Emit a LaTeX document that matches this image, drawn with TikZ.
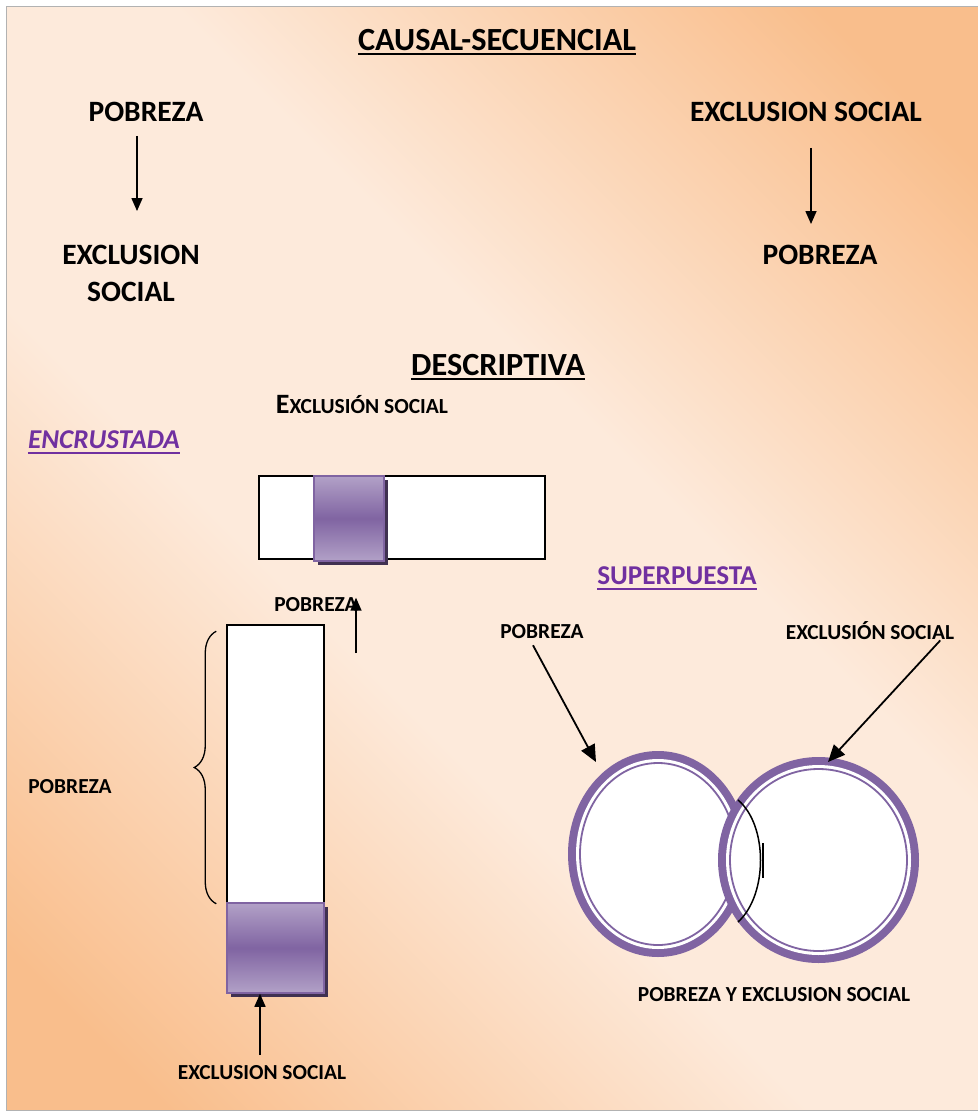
\documentclass[tikz,border=0pt]{standalone}
\usepackage{fontspec}
\setmainfont{Carlito}
\usetikzlibrary{arrows.meta,decorations.pathreplacing,shadows}
\definecolor{peachlt}{RGB}{253,234,219}
\definecolor{peachdk}{RGB}{249,190,140}
\definecolor{violeta}{RGB}{128,100,162}
\definecolor{lavanda}{RGB}{178,161,199}
\definecolor{sombra}{RGB}{64,49,81}
\definecolor{titpurp}{RGB}{112,48,160}
\pgfdeclareverticalshading{peachband}{100bp}{color(0bp)=(peachdk); color(20bp)=(peachdk);
  color(42bp)=(peachlt); color(58bp)=(peachlt); color(80bp)=(peachdk); color(100bp)=(peachdk)}
\tikzset{
  biglbl/.style={inner sep=0pt, font=\fontsize{29.5}{37}\selectfont\bfseries, align=center},
  ttl/.style={inner sep=0pt, font=\fontsize{32.3}{38}\selectfont\bfseries},
  sml/.style={inner sep=0pt, font=\fontsize{21.4}{25}\selectfont\bfseries},
  sect/.style={inner sep=0pt, text=titpurp, font=\fontsize{27.2}{30}\selectfont\bfseries},
  arr/.style={line width=1.5pt, -{Triangle[width=11pt,length=13pt]}},
  bigarr/.style={line width=1.8pt, -{Triangle[width=15pt,length=17pt]}},
  barbox/.style={draw=black, line width=1.5pt, fill=white, inner sep=0pt},
  lilabox/.style={draw=violeta, line width=1.5pt, inner sep=0pt,
    top color=lavanda, bottom color=lavanda, middle color=violeta,
    drop shadow={shadow xshift=3.5pt, shadow yshift=-4pt, fill=sombra, opacity=1}},
}
\begin{document}
\begin{tikzpicture}[x=1pt, y=-1pt]
    \useasboundingbox (0,0) rectangle (978,1112);
    \shade[shading=peachband, shading angle=-45] (6,6) rectangle (978,1110);
    \draw[black!30, line width=0.6pt] (6,6) rectangle (978,1110);

    % causal-secuencial
    \node[ttl] (causal) at (497,40) {CAUSAL-SECUENCIAL};
    \draw[line width=2pt] ([yshift=-3pt]causal.south west) -- ([yshift=-3pt]causal.south east);

    \node[biglbl] (pobA) at (146,112) {POBREZA};
    \node[biglbl] (excA) at (131,273.5) {EXCLUSION\\SOCIAL};
    \draw[arr] ([xshift=-9pt,yshift=-14pt]pobA.south) -- ([xshift=6pt,yshift=34pt]excA.north);

    \node[biglbl] (excB) at (806,112) {EXCLUSION SOCIAL};
    \node[biglbl] (pobB) at (820,255) {POBREZA};
    \draw[arr] ([xshift=5pt,yshift=-26pt]excB.south) -- ([xshift=-9pt,yshift=21pt]pobB.north);

    % descriptiva
    \node[ttl] (descr) at (498,365) {DESCRIPTIVA};
    \draw[line width=2pt] ([yshift=-3pt]descr.south west) -- ([yshift=-3pt]descr.south east);

    \node[inner sep=0pt, anchor=base, font=\fontsize{21.5}{25}\selectfont\bfseries] (excC) at (362,413)
        {{\fontsize{28}{30}\selectfont E}XCLUSIÓN SOCIAL};

    \node[sect, font=\fontsize{27.2}{30}\selectfont\bfseries\itshape] (encr) at (104,440) {ENCRUSTADA};
    \draw[titpurp, line width=2pt] ([yshift=-3.5pt]encr.south west) -- ([yshift=-3.5pt]encr.south east);

    \node[barbox, minimum width=286pt, minimum height=83pt] (hbar) at (402,517.5) {};
    \node[lilabox, minimum width=70pt, minimum height=85pt] (lila1) at (349,518.5) {};

    \node[sml] (pobC) at (316,605) {POBREZA};
    \coordinate (baseC) at (356,653);
    \draw[arr] (baseC) -- (baseC |- pobC.north east);

    \node[barbox, minimum width=97pt, minimum height=278pt] (vbar) at (275.5,764) {};
    \node[lilabox, minimum width=97pt, minimum height=90pt] (lila2) at (275.5,948) {};
    \draw[line width=1.3pt, decorate, decoration={brace, amplitude=22pt}]
        ([xshift=-10pt]vbar.south west) -- ([xshift=-10pt,yshift=-7pt]vbar.north west);

    \node[sml] (pobD) at (70,787) {POBREZA};
    \node[sml] (excD) at (262,1073) {EXCLUSION SOCIAL};
    \coordinate (baseD) at (260,1055);
    \draw[arr] (baseD) -- (baseD |- lila2.south);

    % superpuesta
    \node[sect] (super) at (677,576) {SUPERPUESTA};
    \draw[titpurp, line width=2pt] ([yshift=-3.5pt]super.south west) -- ([yshift=-3.5pt]super.south east);

    \node[sml] (pobE) at (542,632) {POBREZA};
    \node[sml, anchor=base] (excE) at (870,639) {EXCLUSIÓN SOCIAL};

    \fill[violeta] (658,854) ellipse [x radius=90, y radius=103];
    \fill[white] (658,854) ellipse [x radius=82, y radius=95];
    \draw[violeta, line width=1.8pt, fill=white] (658,854) ellipse [x radius=78, y radius=91];

    \fill[violeta] (818.5,860) ellipse [x radius=100.5, y radius=103];
    \fill[white] (818.5,860) ellipse [x radius=92.5, y radius=95];
    \draw[violeta, line width=1.8pt, fill=white] (818.5,860) ellipse [x radius=88.5, y radius=91];

    \draw[line width=1.5pt] (738,800) .. controls (768,825) and (768,895) .. (738,922);
    \draw[line width=1.2pt] (763,843) -- (763,878);

    \coordinate (tipL) at (596,762);
    \coordinate (tipR) at (828,762);
    \draw[bigarr] ([xshift=-9pt,yshift=-6pt]pobE.south) -- (tipL);
    \draw[bigarr] ([xshift=-14pt,yshift=-1pt]excE.south east) -- (tipR);

    \node[sml] (pyE) at (774,995) {POBREZA Y EXCLUSION SOCIAL};
\end{tikzpicture}
\end{document}
